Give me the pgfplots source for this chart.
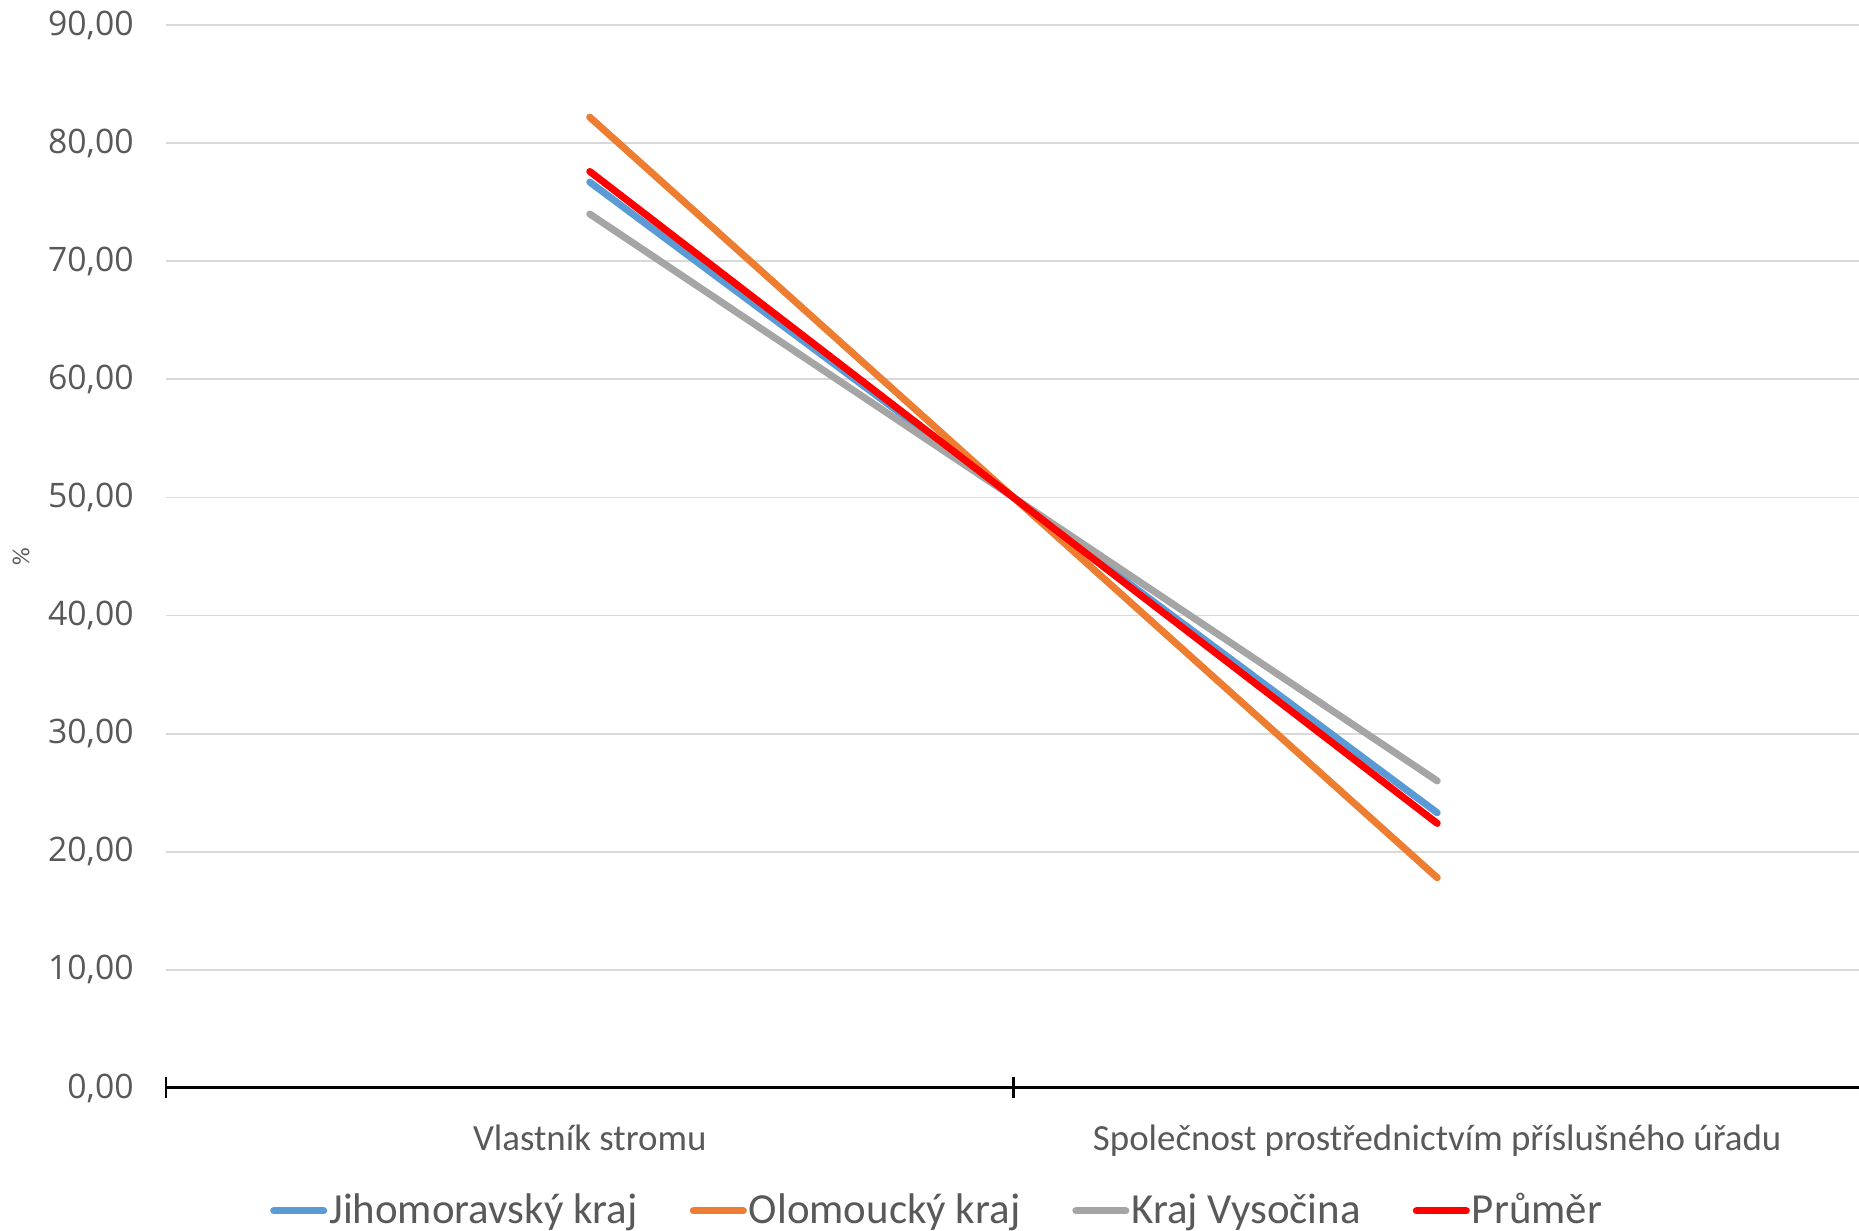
\documentclass[border=0pt]{standalone}
\usepackage{pgfplots}
\pgfplotsset{compat=1.18}
\usepackage{fontspec}
\setmainfont{Carlito}
\newfontfamily\ticksfont{Open Sans}
\definecolor{txt}{HTML}{595959}
\definecolor{cblue}{HTML}{5B9BD5}
\definecolor{corange}{HTML}{ED7D31}
\definecolor{cgray}{HTML}{A5A5A5}
\definecolor{cred}{HTML}{FF0000}
\definecolor{gridc}{HTML}{D9D9D9}
\begin{document}
\begin{tikzpicture}
\begin{axis}[
  at={(0,0)}, anchor=south west,
  scale only axis,
  width=16.95cm, height=10.63cm,
  xmin=-0.5, xmax=1.5,
  ymin=0, ymax=90,
  clip=false,
  axis x line*=bottom,
  axis y line*=left,
  y axis line style={draw=none},
  x axis line style={black, line width=0.85pt},
  ytick={0,10,...,90},
  ytick style={draw=none},
  ymajorgrids,
  grid style={gridc, line width=0.5pt},
  yticklabel style={font=\ticksfont\fontsize{9.6}{11}\selectfont, text=txt, xshift=-0.2cm},
  /pgf/number format/.cd, fixed, fixed zerofill, precision=2, use comma, assume math mode=true,
  /pgfplots/.cd,
  xtick={0,1},
  xticklabels={Vlastník stromu, Společnost prostřednictvím příslušného úřadu},
  xtick style={draw=none},
  xticklabel style={font=\fontsize{10.5}{12}\selectfont, text=txt, yshift=-0.24cm},
  extra x ticks={-0.5,0.5,1.5},
  extra x tick labels={},
  extra x tick style={major tick length=0.21cm, tick align=center, xtick style={draw=black, line width=0.6pt}, grid=none},
  ylabel={\%},
  ylabel style={at={(axis description cs:-0.0855,0.5)}, anchor=center, font=\fontsize{7}{8}\selectfont, text=txt},
  legend columns=4,
  legend style={at={(axis description cs:0.455,0)}, yshift=-1.23cm, anchor=center, draw=none, fill=none,
    font=\fontsize{12.2}{14}\selectfont, text=txt, inner sep=0pt,
    nodes={inner sep=0.6pt},
    /tikz/every even column/.append style={column sep=0.5cm}},
  legend image code/.code={\draw[#1, line cap=round] (0cm,0cm) -- (0.5cm,0cm);},
  every axis plot/.append style={line width=2pt, line cap=round},
]
\addplot[cblue] coordinates {(0,76.7) (1,23.3)};
\addlegendentry{Jihomoravský kraj}
\addplot[corange] coordinates {(0,82.2) (1,17.8)};
\addlegendentry{Olomoucký kraj}
\addplot[cgray] coordinates {(0,74.0) (1,26.0)};
\addlegendentry{Kraj Vysočina}
\addplot[cred] coordinates {(0,77.6) (1,22.4)};
\addlegendentry{Průměr}
\end{axis}
\pgfresetboundingbox
\path[use as bounding box] (-1.66cm,-1.43cm) rectangle (16.93cm,10.88cm);
\end{tikzpicture}
\end{document}
